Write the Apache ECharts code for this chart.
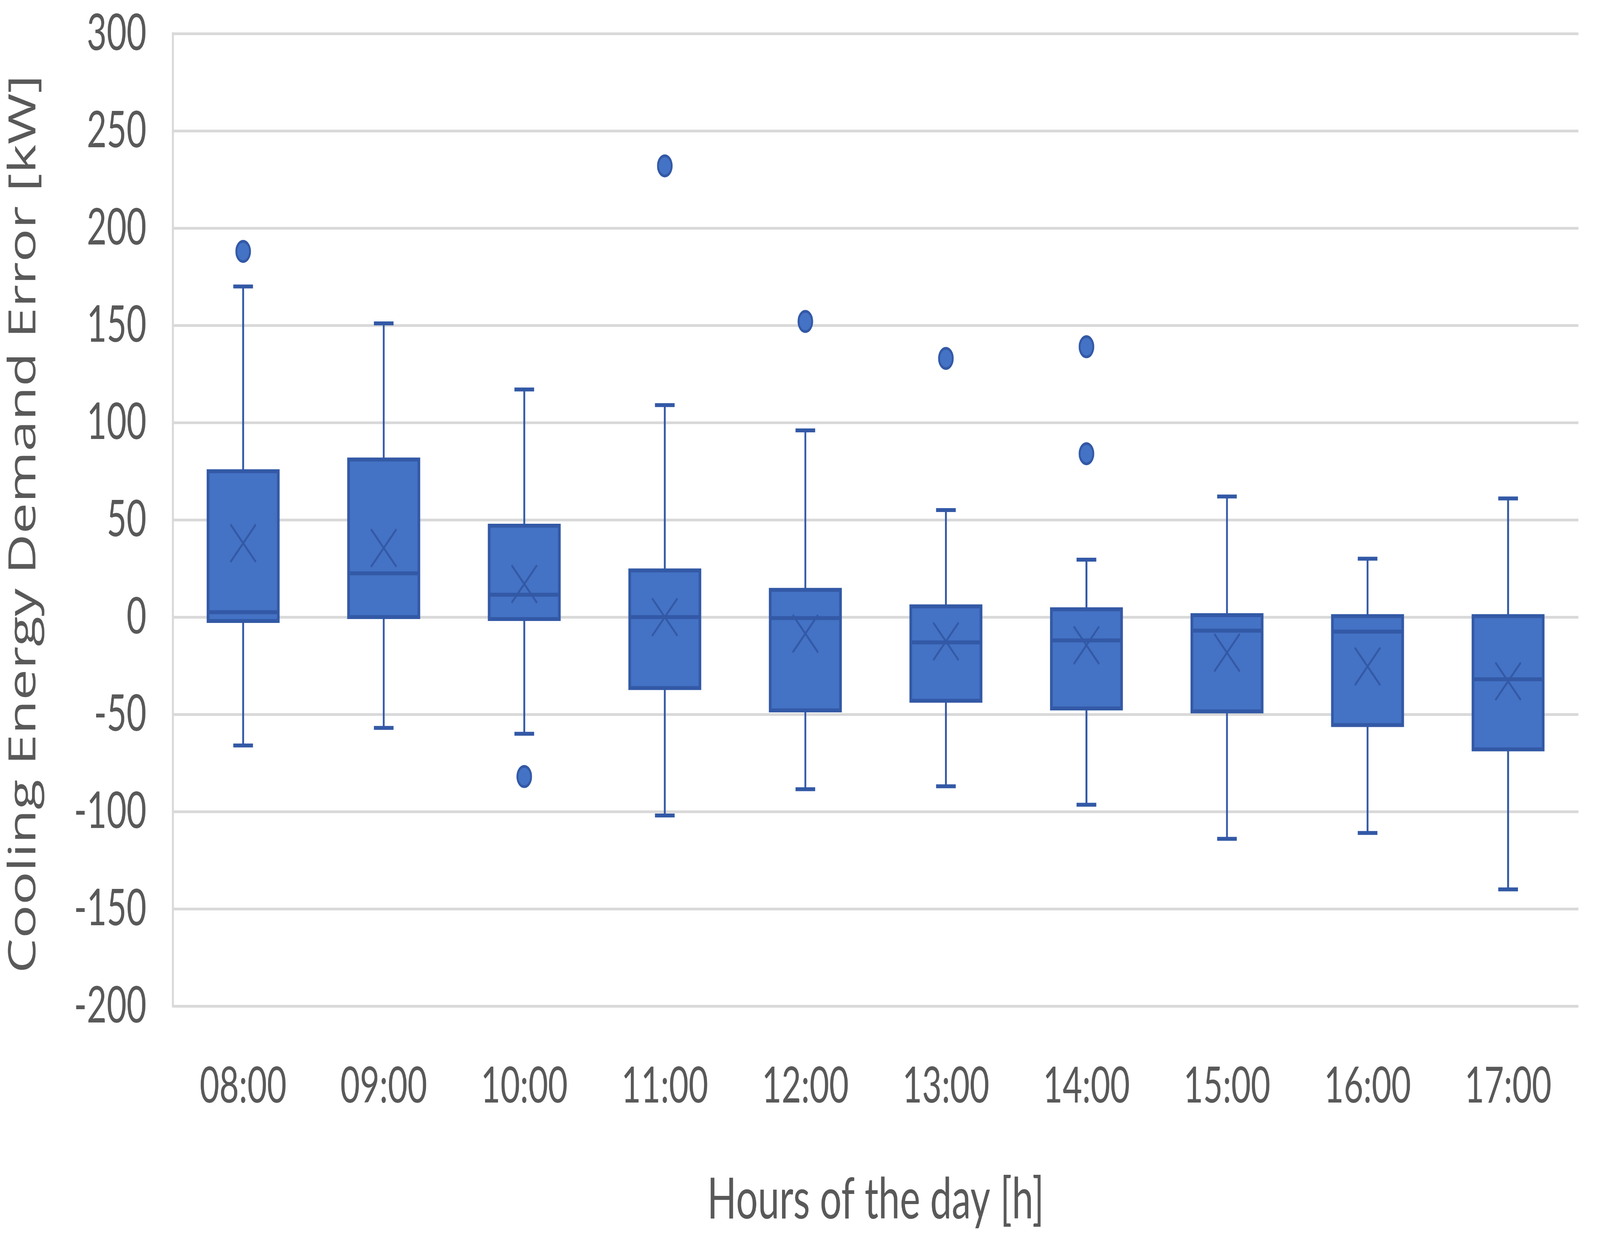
<!DOCTYPE html>
<html>
<head>
<meta charset="utf-8">
<script src="https://cdn.jsdelivr.net/npm/echarts@6/dist/echarts.min.js"></script>
<style>
html,body{margin:0;padding:0;background:#fff;overflow:hidden;}
#chart{width:6062px;height:3198px;transform-origin:0 0;}
</style>
</head>
<body>
<div id="chart"></div>
<script>
// ---- data ----
const categories = ['08:00','09:00','10:00','11:00','12:00','13:00','14:00','15:00','16:00','17:00'];
const whiskerMin = [-66, -57, -60, -102, -88.5, -87, -96.5, -114, -111, -140];
const q1Values   = [-2, 0, -1, -36.5, -48, -43, -47, -48.5, -55.5, -68];
const medians    = [2.5, 22.5, 11.5, 0, -0.5, -13, -12, -7, -7.5, -32];
const q3Values   = [75, 81, 47, 24, 14, 5.5, 4, 1, 0.5, 0.5];
const whiskerMax = [170, 151, 117, 109, 96, 55, 29.5, 62, 30, 61];
const means      = [38, 35.5, 17, 0, -8.5, -12.5, -14.5, -18.3, -25.4, -33];
const outliers   = [['08:00', 188], ['10:00', -82], ['11:00', 232], ['12:00', 152], ['13:00', 133], ['14:00', 139], ['14:00', 84]];
const yTicks = { min: -200, max: 300, interval: 50 };
const xTitle = 'Hours of the day [h]';
const yTitle = 'Cooling Energy Demand Error [kW]';

const boxData = categories.map((c, i) => [i, whiskerMin[i], q1Values[i], medians[i], q3Values[i], whiskerMax[i], means[i]]);

const FILL = '#4472C4';
const LINE = '#3359A6';
const TEXT = '#595959';
const GRID = '#D9D9D9';

// The chart is laid out for a 6062x3198 page; fit it to the real viewport.
const W = 6062, H = 3198;
const dom = document.getElementById('chart');
const sx = (window.innerWidth || W) / W, sy = (window.innerHeight || H) / H;
if (Math.abs(sx - 1) > 0.001 || Math.abs(sy - 1) > 0.001) {
  dom.style.transform = 'scale(' + sx + ',' + sy + ')';
}

function renderBox(params, api) {
  const i = api.value(0);
  const band = api.size([1, 0])[0];
  const x = api.coord([i, 0])[0];
  const yMin = api.coord([i, api.value(1)])[1];
  const yQ1 = api.coord([i, api.value(2)])[1];
  const yMed = api.coord([i, api.value(3)])[1];
  const yQ3 = api.coord([i, api.value(4)])[1];
  const yMax = api.coord([i, api.value(5)])[1];
  const yMean = api.coord([i, api.value(6)])[1];
  const half = band * 0.25;
  const cap = band * 0.07;
  const xs = 48;
  const lineStyle = { stroke: LINE, lineWidth: 7 };
  return {
    type: 'group',
    children: [
      { type: 'line', shape: { x1: x, y1: yQ3, x2: x, y2: yMax }, style: lineStyle },
      { type: 'line', shape: { x1: x, y1: yQ1, x2: x, y2: yMin }, style: lineStyle },
      { type: 'line', shape: { x1: x - cap, y1: yMax, x2: x + cap, y2: yMax }, style: { stroke: LINE, lineWidth: 10 } },
      { type: 'line', shape: { x1: x - cap, y1: yMin, x2: x + cap, y2: yMin }, style: { stroke: LINE, lineWidth: 10 } },
      { type: 'rect', shape: { x: x - half, y: yQ3, width: half * 2, height: yQ1 - yQ3 }, style: { fill: FILL, stroke: LINE, lineWidth: 10 } },
      { type: 'line', shape: { x1: x - half, y1: yMed, x2: x + half, y2: yMed }, style: { stroke: LINE, lineWidth: 10 } },
      { type: 'line', shape: { x1: x - xs, y1: yMean - xs, x2: x + xs, y2: yMean + xs }, style: { stroke: LINE, lineWidth: 6 } },
      { type: 'line', shape: { x1: x - xs, y1: yMean + xs, x2: x + xs, y2: yMean - xs }, style: { stroke: LINE, lineWidth: 6 } }
    ]
  };
}

const chart = echarts.init(dom, null, { renderer: 'canvas', width: W, height: H });
chart.setOption({
  animation: false,
  backgroundColor: '#ffffff',
  grid: { left: 655, right: 82, top: 86, bottom: 622, containLabel: false },
  xAxis: {
    type: 'category',
    data: categories,
    boundaryGap: true,
    axisLine: { show: false },
    axisTick: { show: false },
    splitLine: { show: false },
    axisLabel: { color: TEXT, fontSize: 128, fontFamily: 'Lato', margin: 142 },
    name: xTitle,
    nameLocation: 'middle',
    nameGap: 424,
    nameTextStyle: { color: TEXT, fontSize: 146, fontFamily: 'Lato' }
  },
  yAxis: {
    type: 'value',
    min: yTicks.min,
    max: yTicks.max,
    interval: yTicks.interval,
    axisLine: { show: true, lineStyle: { color: GRID, width: 8 } },
    axisTick: { show: false },
    splitLine: { show: true, lineStyle: { color: GRID, width: 7 } },
    axisLabel: { color: TEXT, fontSize: 130, fontFamily: 'Lato', margin: 100 },
    name: yTitle,
    nameLocation: 'middle',
    nameGap: 490,
    nameTextStyle: { color: TEXT, fontSize: 142, fontFamily: 'Open Sans', padding: [0, 22, 0, 0] }
  },
  series: [
    {
      type: 'custom',
      renderItem: renderBox,
      data: boxData,
      encode: { x: 0, y: [1, 5] },
      z: 3
    },
    {
      type: 'scatter',
      data: outliers,
      symbol: 'circle',
      symbolSize: 52,
      itemStyle: { color: FILL, borderColor: LINE, borderWidth: 7, opacity: 1 },
      z: 4
    }
  ]
});
</script>
</body>
</html>
